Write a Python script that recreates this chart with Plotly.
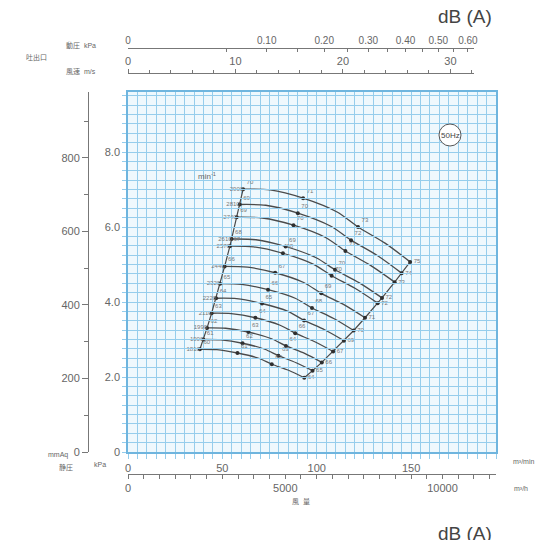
import plotly.graph_objects as go

W, H = 541, 540

# ---------------- data ----------------
speeds = ["2900", "2810", "2740", "2610", "2570", "2440",
          "2320", "2220", "2110", "1990", "1900", "1810"]

curve_q = [
    [61.0, 75.3, 92.8, 110.8, 121.9, 136.2, 149.5],
    [59.2, 73.0, 90.0, 107.5, 118.2, 132.1, 145.0],
    [57.6, 71.2, 87.7, 104.7, 115.2, 128.7, 141.3],
    [54.9, 67.8, 83.5, 99.7, 109.7, 122.6, 134.6],
    [54.0, 66.6, 82.1, 98.1, 107.9, 120.5, 132.3],
    [51.2, 63.3, 78.0, 93.1, 102.4, 114.4, 125.6],
    [48.8, 60.2, 74.2, 88.6, 97.5, 109.0, 119.6],
    [46.7, 57.6, 71.0, 84.8, 93.3, 104.2, 114.4],
    [44.3, 54.7, 67.5, 80.6, 88.6, 99.0, 108.7],
    [41.9, 51.7, 63.8, 76.1, 83.7, 93.6, 102.7],
    [39.9, 49.2, 60.7, 72.5, 79.7, 89.1, 97.8],
    [38.1, 47.1, 58.0, 69.3, 76.2, 85.1, 93.4],
]
curve_p = [
    [7.01, 6.99, 6.77, 6.40, 6.00, 5.57, 5.07],
    [6.60, 6.58, 6.37, 6.02, 5.65, 5.24, 4.77],
    [6.26, 6.24, 6.05, 5.72, 5.36, 4.97, 4.53],
    [5.68, 5.66, 5.48, 5.18, 4.86, 4.51, 4.11],
    [5.49, 5.47, 5.30, 5.01, 4.70, 4.36, 3.97],
    [4.95, 4.93, 4.78, 4.52, 4.23, 3.93, 3.58],
    [4.49, 4.47, 4.33, 4.10, 3.84, 3.56, 3.24],
    [4.10, 4.09, 3.96, 3.75, 3.51, 3.26, 2.97],
    [3.70, 3.69, 3.58, 3.38, 3.17, 2.94, 2.68],
    [3.31, 3.30, 3.20, 3.02, 2.83, 2.63, 2.39],
    [3.00, 2.99, 2.90, 2.74, 2.57, 2.38, 2.17],
    [2.74, 2.73, 2.64, 2.50, 2.34, 2.18, 1.98],
]
db_left = [70, 69, 69, 68, 67, 66, 65, 64, 63, 62, 61, 60]
db_mid1 = [71, 70, 70, 69, 68, 67, 66, 65, 64, 63, 62, 61]
db_mid2 = [73, 72, 71, 70, 70, 69, 68, 67, 66, 64, 63, 62]
db_right = [75, 74, 73, 72, 72, 71, 70, 69, 67, 66, 65, 64]

flow_ticks = [0, 50, 100, 150]
flow_h_ticks = [0, 5000, 10000]
flow_h_text = ["0", "5000", "10000"]
press_ticks = [0, 2, 4, 6, 8]
press_ticktext = ["0", "2.0", "4.0", "6.0", "8.0"]
mmaq_ticks = [0, 200, 400, 600, 800]
vel_ticks = [0, 10, 20, 30]
dyn_values = [0, 0.10, 0.20, 0.30, 0.40, 0.50, 0.60]
dyn_labels = ["0", "0.10", "0.20", "0.30", "0.40", "0.50", "0.60"]
dyn_minor = [0.05, 0.15, 0.25, 0.35, 0.45, 0.55]

# ---------------- scales ----------------
X_MAX = 195.0      # m3/min
P_MAX = 9.6        # kPa
V_MAX = 32.19      # m/s
RHO = 1.2
KPA_TO_MMAQ = 101.97


def dyn_to_vel(p_kpa):
    return (2 * p_kpa * 1000 / RHO) ** 0.5


def px(x):
    return x / W


def py(y):
    return 1 - y / H


X_DOM = [px(128), px(496)]
V_DOM = [px(128), px(474)]
Y_DOM = [py(452), py(92)]

GRID = "#95cdec"
TXT = "#666666"
CURVE = "#4a4a4a"
FONT = "Liberation Sans, Noto Sans CJK JP"

fig = go.Figure()

# performance curves
for q, p in zip(curve_q, curve_p):
    fig.add_trace(go.Scatter(x=q, y=p, mode="lines",
                             line=dict(color=CURVE, width=1.3, shape="spline", smoothing=0.8),
                             hoverinfo="skip", showlegend=False))

# boundary lines
for idx in (0, 6):
    fig.add_trace(go.Scatter(x=[q[idx] for q in curve_q], y=[p[idx] for p in curve_p],
                             mode="lines", line=dict(color=CURVE, width=1.2),
                             hoverinfo="skip", showlegend=False))

# dots + dB labels
for idx, dbs, pos in ((0, db_left, "top right"), (2, db_mid1, "top right"),
                      (4, db_mid2, "top right"), (6, db_right, "middle right")):
    fig.add_trace(go.Scatter(x=[q[idx] for q in curve_q], y=[p[idx] for p in curve_p],
                             mode="markers+text", text=[str(d) for d in dbs],
                             textposition=pos,
                             textfont=dict(size=6, color="#777777", family=FONT),
                             marker=dict(size=4, color="#2f2f2f"),
                             hoverinfo="skip", showlegend=False))

# speed labels
fig.add_trace(go.Scatter(x=[q[0] for q in curve_q], y=[p[0] for p in curve_p],
                         mode="text", text=speeds, textposition="middle left",
                         textfont=dict(size=6, color="#777777", family=FONT),
                         hoverinfo="skip", showlegend=False))

# dummy traces to instantiate the extra scales
for xa, ya in (("x2", "y"), ("x3", "y"), ("x4", "y"), ("x", "y2")):
    fig.add_trace(go.Scatter(x=[0], y=[0], xaxis=xa, yaxis=ya, mode="markers",
                             marker=dict(size=1, opacity=0), hoverinfo="skip",
                             showlegend=False))

fig.update_layout(
    width=W, height=H,
    margin=dict(l=0, r=0, t=0, b=0),
    paper_bgcolor="white",
    plot_bgcolor="rgba(0,0,0,0)",
    font=dict(family=FONT, size=11, color=TXT),
    showlegend=False,
    xaxis=dict(domain=X_DOM, range=[0, X_MAX], anchor="y",
               tickvals=flow_ticks, ticks="outside", ticklen=5, tickcolor=GRID,
               showgrid=True, gridcolor=GRID, gridwidth=1,
               minor=dict(dtick=5, showgrid=True, gridcolor=GRID, gridwidth=1,
                          ticks="outside", ticklen=5, tickcolor=GRID),
               showline=True, linecolor="#6fb5de", linewidth=1.5, mirror=True,
               zeroline=False, automargin=False, fixedrange=True,
               tickfont=dict(size=11, color=TXT)),
    yaxis=dict(domain=Y_DOM, range=[0, P_MAX], anchor="x",
               tickvals=press_ticks, ticktext=press_ticktext,
               ticks="outside", ticklen=4, tickcolor=GRID,
               showgrid=True, gridcolor=GRID, gridwidth=1,
               minor=dict(dtick=0.25, showgrid=True, gridcolor=GRID, gridwidth=1,
                          ticks="outside", ticklen=4, tickcolor=GRID),
               showline=True, linecolor="#6fb5de", linewidth=1.5, mirror=True,
               zeroline=False, automargin=False, fixedrange=True,
               tickfont=dict(size=11, color=TXT)),
    yaxis2=dict(range=[0, P_MAX * KPA_TO_MMAQ], overlaying="y", anchor="free",
                position=px(88), side="left",
                tickvals=mmaq_ticks, ticks="outside", ticklen=6, tickcolor="#777",
                minor=dict(dtick=100, ticks="outside", ticklen=4, tickcolor="#777"),
                showline=True, linecolor="#777", linewidth=1,
                showgrid=False, zeroline=False, automargin=False, fixedrange=True,
                tickfont=dict(size=11, color=TXT)),
    xaxis2=dict(domain=V_DOM, range=[0, V_MAX], anchor="free", position=py(73),
                side="top", tickvals=vel_ticks, ticks="outside", ticklen=4,
                tickcolor="#777",
                minor=dict(dtick=2, ticks="outside", ticklen=3, tickcolor="#777"),
                showline=True, linecolor="#777", linewidth=1,
                showgrid=False, zeroline=False, automargin=False, fixedrange=True,
                tickfont=dict(size=11, color=TXT)),
    xaxis3=dict(domain=V_DOM, range=[0, V_MAX], anchor="free", position=py(48),
                side="top", tickvals=[dyn_to_vel(v) for v in dyn_values],
                ticktext=dyn_labels, ticks="inside", ticklen=3, tickcolor="#777",
                minor=dict(tickvals=[dyn_to_vel(v) for v in dyn_minor],
                           ticks="inside", ticklen=3, tickcolor="#777"),
                showline=True, linecolor="#777", linewidth=1,
                showgrid=False, zeroline=False, automargin=False, fixedrange=True,
                tickfont=dict(size=10, color=TXT)),
    xaxis4=dict(domain=X_DOM, range=[0, X_MAX * 60], anchor="free", position=py(474),
                side="bottom", tickvals=flow_h_ticks, ticktext=flow_h_text,
                ticks="outside", ticklen=4, tickcolor="#777",
                minor=dict(dtick=500, ticks="outside", ticklen=4, tickcolor="#777"),
                showline=True, linecolor="#777", linewidth=1,
                showgrid=False, zeroline=False, automargin=False, fixedrange=True,
                tickfont=dict(size=11, color=TXT)),
)

# plot-area background (below gridlines)
fig.add_shape(type="rect", xref="x domain", yref="y domain", x0=0, x1=1, y0=0, y1=1,
              fillcolor="#eef8fd", line=dict(width=0), layer="below")

# 50Hz badge
fig.add_shape(type="circle", xref="paper", yref="paper",
              x0=px(439), x1=px(461), y0=py(146), y1=py(124),
              line=dict(color="#555", width=1), fillcolor="white")


def note(text, x, y, size=8, color=TXT, xanchor="center", yanchor="middle"):
    fig.add_annotation(text=text, x=px(x), y=py(y), xref="paper", yref="paper",
                       showarrow=False, xanchor=xanchor, yanchor=yanchor,
                       font=dict(size=size, color=color, family=FONT))


note("50Hz", 450, 135, size=8, color="#444")
note("dB (A)", 494, 16, size=19, color="#444", xanchor="right")
note("dB (A)", 494, 521, size=19, color="#444", xanchor="right", yanchor="top")
note("吐出口", 36, 58, size=7)
note("動圧  kPa", 98, 46, size=7, xanchor="right")
note("風速  m/s", 98, 71, size=7, xanchor="right")
note("mmAq", 70, 455, size=7, xanchor="right")
note("静圧", 66, 467, size=7)
note("kPa", 108, 464, size=7, xanchor="right")
note("m³/min", 536, 461, size=7, xanchor="right")
note("m³/h", 530, 488, size=7, xanchor="right")
note("風  量", 301, 502, size=7)
note("min<sup>-1</sup>", 207, 176, size=8)

fig.write_html("out.html", config={"displayModeBar": False},
               post_script="document.body.style.margin='0';")
